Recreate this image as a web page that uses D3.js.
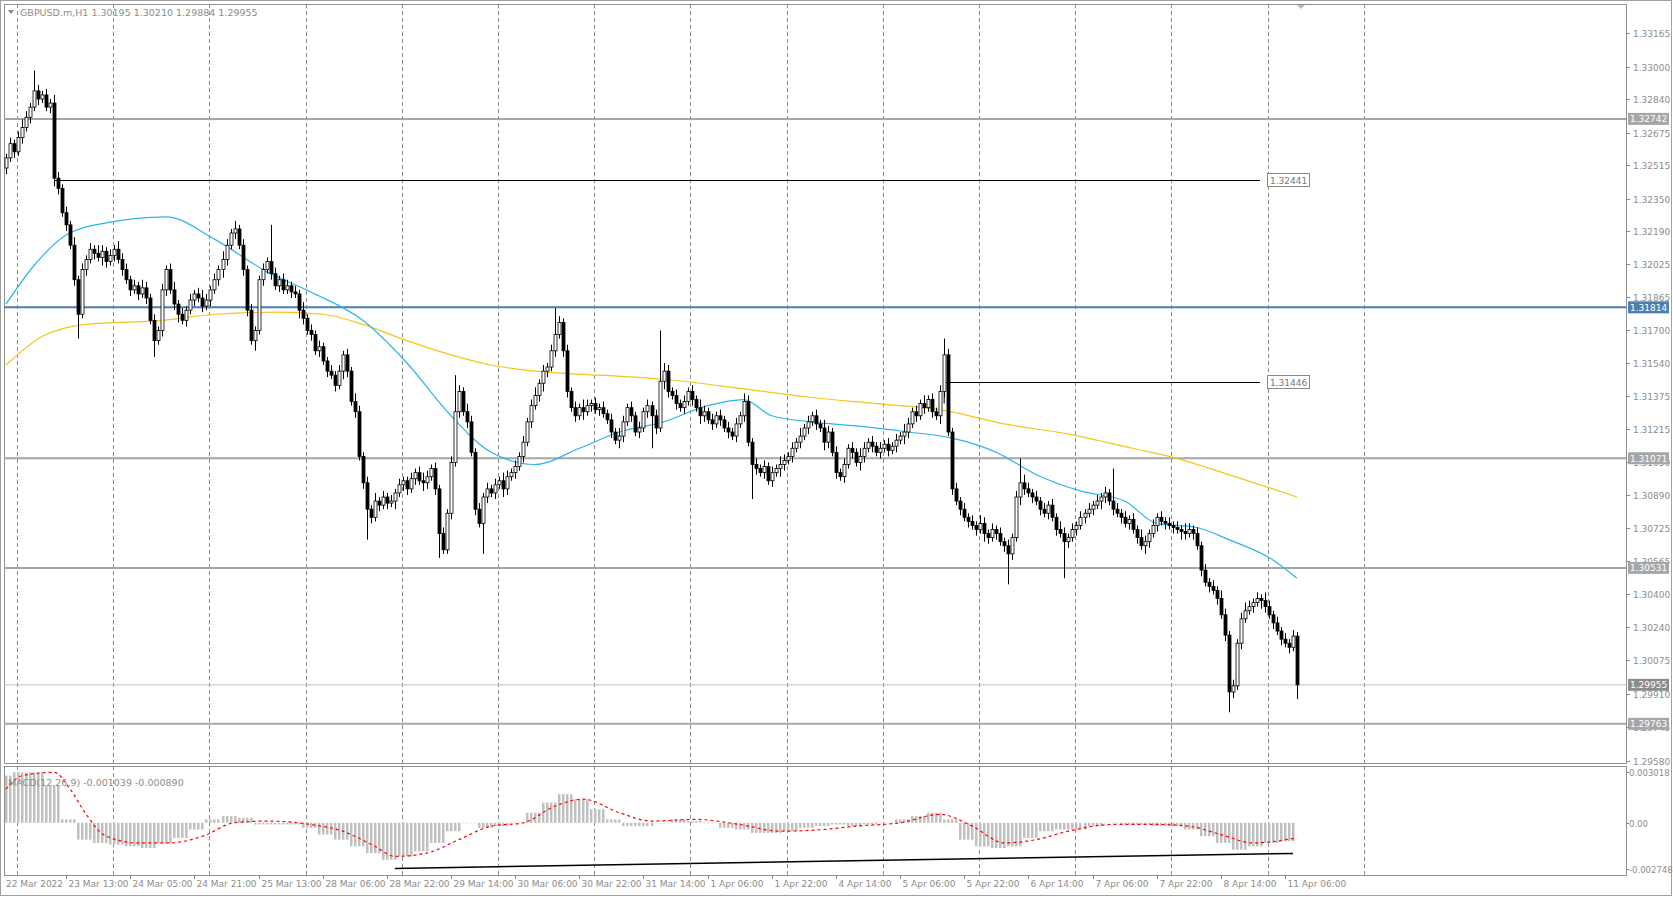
<!DOCTYPE html>
<html><head><meta charset="utf-8">
<script src="https://cdn.jsdelivr.net/npm/d3@7"></script>
<style>
body { margin:0; background:#fff; }
text { font-family:"DejaVu Sans", sans-serif; font-size:9px; fill:#8c8c8c; }
</style></head>
<body><svg id="c" width="1673" height="897"></svg>
<script>
// closes in pips over 1.3 (e.g. 255 -> 1.3255), one per H1 bar
var closes = [
 255,262,258,265,270,275,280,288,284, 286,280,282,245,240,228,222,212,
 195,178,200,205,210,208,206,209, 204,207,210,205,200,195,190,192,
 188,191,186,175,165,170,190,200, 190,183,178,175,180,185,188,186,
 182,185,190,195,200,205,212,218, 220,212,200,180,165,170,195,200,
 204,198,192,195,190,192,189,188, 180,176,170,168,160,162,155,150,
 148,143,150,158,150,135,130,108, 95,82,78,86,84,88,85,86,
 90,94,96,92,97,100,96,95, 98,102,92,70,62,80,105,130,
 140,130,125,110,82,75,88,92, 90,94,96,92,98,100,103,108,
 115,125,133,138,144,150,152,160, 168,174,160,140,132,128,132,130,
 133,134,131,132,129,126,120,116, 118,125,132,128,120,122,130,133,
 128,122,145,150,140,138,134,132, 135,140,136,132,128,130,126,124,
 128,126,122,120,118,124,128,135, 115,104,102,100,103,96,100,102,
 104,106,108,112,115,118,122,125, 128,124,122,115,120,110,100,98,
 104,112,110,105,108,112,115,113, 110,112,114,111,113,116,118,120,
 124,130,128,134,132,136,130,128, 140,158,120,92,86,82,78,76,
 74,72,75,70,68,72,70,66, 64,60,68,88,95,92,90,88,
 86,82,80,84,78,72,70,66, 68,72,74,78,80,82,84,86,
 88,90,86,82,80,78,75,77, 72,68,64,66,70,74,78,76,
 75,74,73,72,71,70,72,70, 64,52,46,44,42,38,30,20,
 -8,-5,16,28,32,34,36,38, 37,34,30,26,22,18,16,14,19.5,-4.5];
var firstOpen = 250;
// wick lengths in pips, base-36 digit per bar
var upWick = "2323432a32 3243232423 2324323243 3232432323 2342323234 3232432423 232232i323 3232423232 2323232432 3242323232 2323432323 23i3243232 3232432323 2342323d32 3232432323 2324323232 323p432323 2324323232 3232432323 2324323242 3232432323 2324323232 3232432324 2323832323 2324323232 323c432323 2324323232 323232g323 2324323232 3232432323 2324323234 3232432323 232";
var dnWick = "3232323232 23432323c2 3232432323 2323232823 3234232323 2323432323 3252323232 2324323232 3232432323 f323232423 32324323c2 232323232f 3232432323 2323432323 3232423232 2324323232 3g32432323 2324323232 323232h323 2324323232 3232432323 2324323232 3232432323 2324323232 3232432323 f324323232 3232i32323 2324323232 3232432323 2324323232 32323a3232 2324323232 327";

// moving averages: bar index / pips
var maFastIdx = [0,7,15,25,40,52,65,76,89,100,111,121,132,143,153,164,175,184,191,201,212,225,236,247,257,268,279,287,297,305,316,322];
var maFast = [183,202,217,223,226,215,199,189,175,154,128,110,104,112,120,125,133,136,128,125,123,120,117,110,99,91,86,75,73,67,57,48];
var maSlowIdx = [0,9,20,39,52,68,79,89,100,111,121,132,148,164,185,201,217,233,249,265,281,292,305,316,322];
var maSlow = [153,167,173,175,178,179,178,173,165,158,153,150,148,146,141,137,134,131,124,119,112,107,99,92,88];

// MACD main (1e-4), every 4th bar
var macdHist = [28,30,30,22,2,-10,-12,-13,-14,-15,-12,-9,-4,2,4,3,-1,-1,-1,-3,-7,-10,-14,-18,-22,-20,-17,-12,-5,0,-3,-2,0,6,12,17,14,8,2,-2,-2,0,2,1,0,-3,-4,-6,-6,-5,-3,-2,-1,-2,-1,0,2,4,6,2,-10,-14,-15,-14,-9,-5,-4,-4,-2,0,-1,-1,-2,-2,-4,-8,-12,-16,-14,-12,-11];
var sigIdx = [0,4,12,16,20,25,33,41,49,57,65,76,84,92,97,105,113,121,129,137,144,153,161,172,183,193,204,212,223,233,241,249,257,265,276,287,295,303,311,322];
var signal = [20,28,30,20,5,-8,-12,-12,-8,0,1,-1,-5,-14,-20,-18,-10,-2,0,10,14,6,1,2,-1,-5,-4,-2,0,5,-2,-12,-10,-5,-1,-1,-2,-7,-12,-9];

var levels = [1.32742, 1.31071, 1.30531, 1.29763];
var blueLevel = 1.31814, lastPrice = 1.29955;
var priceTicks = ["1.33165","1.33000","1.32840","1.32675","1.32515","1.32350","1.32190","1.32025","1.31865","1.31700","1.31540","1.31375","1.31215","1.31050","1.30890","1.30725","1.30565","1.30400","1.30240","1.30075","1.29910","1.29745","1.29580"];
var dateLabels = ["23 Mar 13:00","24 Mar 05:00","24 Mar 21:00","25 Mar 13:00","28 Mar 06:00","28 Mar 22:00","29 Mar 14:00","30 Mar 06:00","30 Mar 22:00","31 Mar 14:00","1 Apr 06:00","1 Apr 22:00","4 Apr 14:00","5 Apr 06:00","5 Apr 22:00","6 Apr 14:00","7 Apr 06:00","7 Apr 22:00","8 Apr 14:00","11 Apr 06:00"];

function px(v) { return 1.3 + v / 10000; }
function dig(s, i) { return parseInt(s.replace(/ /g, "").charAt(i), 36); }

var svg = d3.select("#c");
var L = 4, R = 1626, T = 4, B = 763, MT = 766, MB = 875;
var x = d3.scaleLinear().domain([0, closes.length - 1]).range([6, 1297]);
var y = d3.scaleLinear().domain([1.33165, 1.29580]).range([33, 761]);
var ym = d3.scaleLinear().domain([0.003018, -0.002748]).range([772, 869]);

// frames
svg.append("rect").attr("x", 0.5).attr("y", 0.5).attr("width", 1671).attr("height", 895).attr("fill", "none").attr("stroke", "#a0a0a0");
svg.append("rect").attr("x", L + .5).attr("y", T + .5).attr("width", R - L).attr("height", B - T).attr("fill", "none").attr("stroke", "#909090");
svg.append("rect").attr("x", L + .5).attr("y", MT + .5).attr("width", R - L).attr("height", MB - MT).attr("fill", "none").attr("stroke", "#909090");

// vertical grid
d3.range(15).forEach(function(k) {
    var gx = Math.round(17 + 96.2 * k) + .5;
    [[T, B], [MT, MB]].forEach(function(p) {
	svg.append("line").attr("x1", gx).attr("x2", gx).attr("y1", p[0]).attr("y2", p[1])
	    .attr("stroke", "#8c8c8c").attr("stroke-dasharray", "4,3");
    });
});

// horizontal levels
levels.forEach(function(l) {
    svg.append("line").attr("x1", L).attr("x2", R).attr("y1", y(l)).attr("y2", y(l))
	.attr("stroke", "#a6a6a6").attr("stroke-width", 2);
});
svg.append("line").attr("x1", L).attr("x2", R).attr("y1", y(lastPrice)).attr("y2", y(lastPrice)).attr("stroke", "#c0c0c0");
svg.append("line").attr("x1", L).attr("x2", R).attr("y1", y(blueLevel)).attr("y2", y(blueLevel)).attr("stroke", "#4a7fb0").attr("stroke-width", 2);

// black drawn lines with labels
[[12, 1.32441], [234, 1.31446]].forEach(function(d) {
    svg.append("line").attr("x1", x(d[0])).attr("x2", 1260).attr("y1", Math.round(y(d[1])) + .5).attr("y2", Math.round(y(d[1])) + .5).attr("stroke", "#000");
    svg.append("rect").attr("x", 1267.5).attr("y", Math.round(y(d[1])) - 6.5).attr("width", 42).attr("height", 13).attr("fill", "#fff").attr("stroke", "#888");
    svg.append("text").attr("x", 1270).attr("y", y(d[1]) + 4).style("fill", "#777").text(d[1].toFixed(5));
});
svg.append("line").attr("x1", x(234)).attr("x2", x(234)).attr("y1", y(1.31446)).attr("y2", y(1.3134)).attr("stroke", "#000");

// moving averages
var line = d3.line().curve(d3.curveMonotoneX);
svg.append("path").attr("d", line(maSlowIdx.map(function(i, k) { return [x(i), y(px(maSlow[k]))]; })))
    .attr("fill", "none").attr("stroke", "#f5c518").attr("stroke-width", 1.2);
svg.append("path").attr("d", line(maFastIdx.map(function(i, k) { return [x(i), y(px(maFast[k]))]; })))
    .attr("fill", "none").attr("stroke", "#2cb5e8").attr("stroke-width", 1.2);

// candles
var bars = closes.map(function(c, i) {
    var o = i === 0 ? firstOpen : closes[i - 1];
    return { i: i, o: o, c: c, h: Math.max(o, c) + dig(upWick, i), l: Math.min(o, c) - dig(dnWick, i) };
});
var g = svg.append("g");
g.selectAll("line.w").data(bars).enter().append("line")
    .attr("x1", function(d) { return Math.round(x(d.i)) + .5; })
    .attr("x2", function(d) { return Math.round(x(d.i)) + .5; })
    .attr("y1", function(d) { return y(px(d.h)); })
    .attr("y2", function(d) { return y(px(d.l)); })
    .attr("stroke", "#000");
g.selectAll("rect.b").data(bars).enter().append("rect")
    .attr("x", function(d) { return Math.round(x(d.i)) - 1; })
    .attr("width", 3)
    .attr("y", function(d) { return y(px(Math.max(d.o, d.c))); })
    .attr("height", function(d) { return Math.max(1, Math.abs(y(px(d.o)) - y(px(d.c)))); })
    .attr("fill", function(d) { return d.c >= d.o ? "#fff" : "#000"; })
    .attr("stroke", "#000").attr("stroke-width", 0.8);

// MACD: each sample drawn over its four bars as thin columns
var hg = svg.append("g");
macdHist.forEach(function(v, k) {
    d3.range(4).forEach(function(j) {
	var bi = 4 * k + j - 2;
	if (bi < 0 || bi >= closes.length) return;
	hg.append("rect").attr("x", Math.round(x(bi)) - 1).attr("width", 2.5)
	    .attr("y", Math.min(ym(v / 10000), ym(0)))
	    .attr("height", Math.max(0.5, Math.abs(ym(v / 10000) - ym(0))))
	    .attr("fill", "#c0c0c0");
    });
});
svg.append("path").attr("d", line(sigIdx.map(function(i, k) { return [x(i), ym(signal[k] / 10000)]; })))
    .attr("fill", "none").attr("stroke", "#ff0000").attr("stroke-width", 1.2).attr("stroke-dasharray", "3,3");
svg.append("line").attr("x1", x(97)).attr("x2", x(321)).attr("y1", ym(-0.00272)).attr("y2", ym(-0.00182))
    .attr("stroke", "#000").attr("stroke-width", 1.5);

// right axis
priceTicks.forEach(function(t) {
    var ty = Math.round(y(+t)) + .5;
    svg.append("line").attr("x1", R).attr("x2", R + 4).attr("y1", ty).attr("y2", ty).attr("stroke", "#888");
    svg.append("text").attr("x", R + 7).attr("y", ty + 3.5).text(t);
});
function tag(v, col) {
    var ty = y(v);
    svg.append("rect").attr("x", R + 2).attr("y", ty - 6).attr("width", 41).attr("height", 12).attr("fill", col);
    svg.append("text").attr("x", R + 4).attr("y", ty + 3.5).style("fill", "#fff").text(v.toFixed(5));
}
levels.forEach(function(l) { tag(l, "#a6a6a6"); });
tag(lastPrice, "#8c8c8c");
tag(blueLevel, "#4a7fb0");
[[0.003018, "0.003018"], [0, "0.00"], [-0.002748, "-0.002748"]].forEach(function(d) {
    var ty = Math.round(ym(d[0])) + .5;
    svg.append("line").attr("x1", R).attr("x2", R + 3).attr("y1", ty).attr("y2", ty).attr("stroke", "#888");
    svg.append("text").attr("x", R + 3).attr("y", ty + 3.5).style("font-size", "8.5px").text(d[1]);
});

// bottom axis
svg.append("text").attr("x", 6).attr("y", 887).text("22 Mar 2022");
dateLabels.forEach(function(t, k) {
    var tx = Math.round(x(15 + 16 * k)) + .5;
    svg.append("line").attr("x1", tx).attr("x2", tx).attr("y1", MB).attr("y2", MB + 4).attr("stroke", "#888");
    svg.append("text").attr("x", tx + 2).attr("y", 887).text(t);
});

// titles
svg.append("path").attr("d", "M8,10 L14,10 L11,14 Z").attr("fill", "#888");
svg.append("text").attr("x", 20).attr("y", 16).style("font-size", "9.5px").text("GBPUSD.m,H1  1.30195 1.30210 1.29884 1.29955");
svg.append("text").attr("x", 8).attr("y", 786).style("font-size", "9.5px").text("MACD(12,26,9) -0.001039 -0.000890");
svg.append("path").attr("d", "M1297,5 L1305,5 L1301,9 Z").attr("fill", "#bbb");
</script></body></html>
